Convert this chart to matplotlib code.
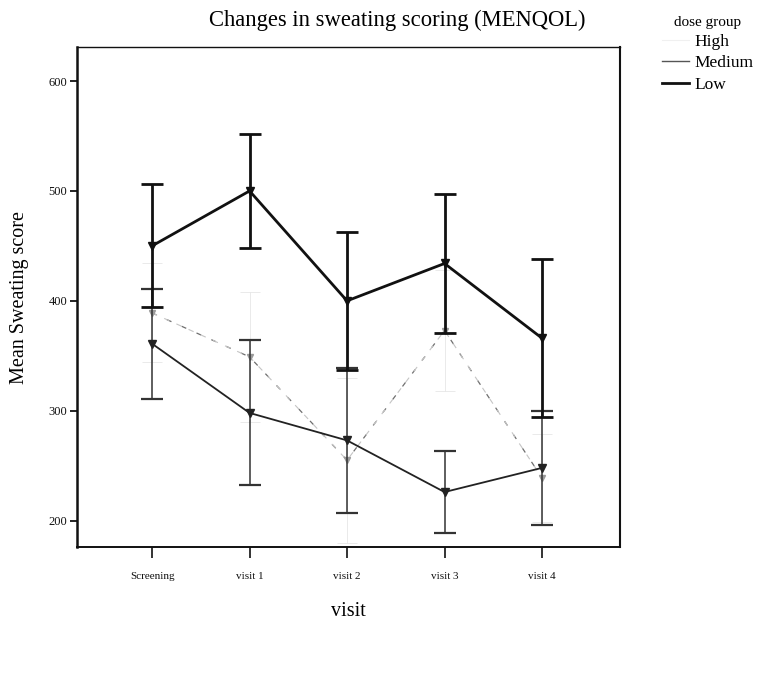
import matplotlib
matplotlib.use("Agg")
import matplotlib.pyplot as plt
from matplotlib.lines import Line2D
import numpy as np

plt.rcParams['font.family'] = ['Liberation Serif', 'DejaVu Serif']

visits = ["Screening", "visit 1", "visit 2", "visit 3", "visit 4"]
groups = ["High", "Medium", "Low"]

high_mean = [389, 349, 255, 373, 239]
high_err = [45, 59, 75, 55, 40]
medium_mean = [361, 298, 273, 226, 248]
medium_err = [50, 66, 66, 37, 52]
low_mean = [450, 500, 400, 434, 366]
low_err = [56, 52, 63, 63, 72]

yticks = [200, 300, 400, 500, 600]

fig = plt.figure(figsize=(7.61, 6.73), dpi=100)
ax = fig.add_axes([77/761, 1-547/673, (620-77)/761, (547-47)/673])

x = np.arange(len(visits))

# High (light line, mostly lost in the scan)
ax.errorbar(x, high_mean, yerr=high_err, color='#c4c4c4', lw=0.8,
            linestyle=(0, (5, 7)), marker='v', ms=4, mfc='#9a9a9a', mec='#9a9a9a',
            capsize=7, elinewidth=0.5, capthick=0.5, ecolor='#e2e2e2', zorder=2)
ax.plot(x, high_mean, color='#6e6e6e', lw=0.9, linestyle=(0, (4, 9)), zorder=2)

# Medium (thin solid)
ax.errorbar(x, medium_mean, yerr=medium_err, color='#222222', lw=1.3,
            marker='v', ms=6, mfc='#222222', mec='#222222',
            capsize=8, elinewidth=1.1, capthick=1.6, ecolor='#333333', zorder=3)

# Low (thick solid)
ax.errorbar(x, low_mean, yerr=low_err, color='#111111', lw=2.0,
            marker='v', ms=6, mfc='#111111', mec='#111111',
            capsize=8, elinewidth=2.0, capthick=2.0, ecolor='#111111', zorder=4)

ax.set_xlim(-0.77, 4.8)
ax.set_ylim(176, 631)
ax.set_yticks(yticks)
ax.set_yticklabels([str(v) for v in yticks], fontsize=9)
ax.set_xticks(x)
ax.set_xticklabels(visits, fontsize=8)
ax.tick_params(axis='y', direction='out', length=5, width=1.3, pad=2, colors='#111111')
ax.tick_params(axis='x', direction='out', length=8, width=1.2, pad=10, colors='#111111')

for side, lw in [('left', 1.8), ('bottom', 1.4), ('top', 1.0), ('right', 1.5)]:
    ax.spines[side].set_linewidth(lw)
    ax.spines[side].set_color('#111111')

ax.set_ylabel("Mean Sweating score", fontsize=14.5, labelpad=14)
ax.set_xlabel("visit", fontsize=14.5, labelpad=15)

fig.text(397/761, 1-20/673, "Changes in sweating scoring (MENQOL)",
         ha='center', va='center', fontsize=16.3)

handles = [Line2D([], [], color='#f0f0f0', lw=0.8),
           Line2D([], [], color='#555555', lw=1.0),
           Line2D([], [], color='#111111', lw=2.0)]
leg = fig.legend(handles, groups, title="dose group", loc='upper left',
                 bbox_to_anchor=(646/761, 1-0/673), frameon=False,
                 fontsize=12.5, title_fontsize=11, handlelength=1.6,
                 handletextpad=0.3, labelspacing=0.3)

fig.savefig("out.png", dpi=100)
